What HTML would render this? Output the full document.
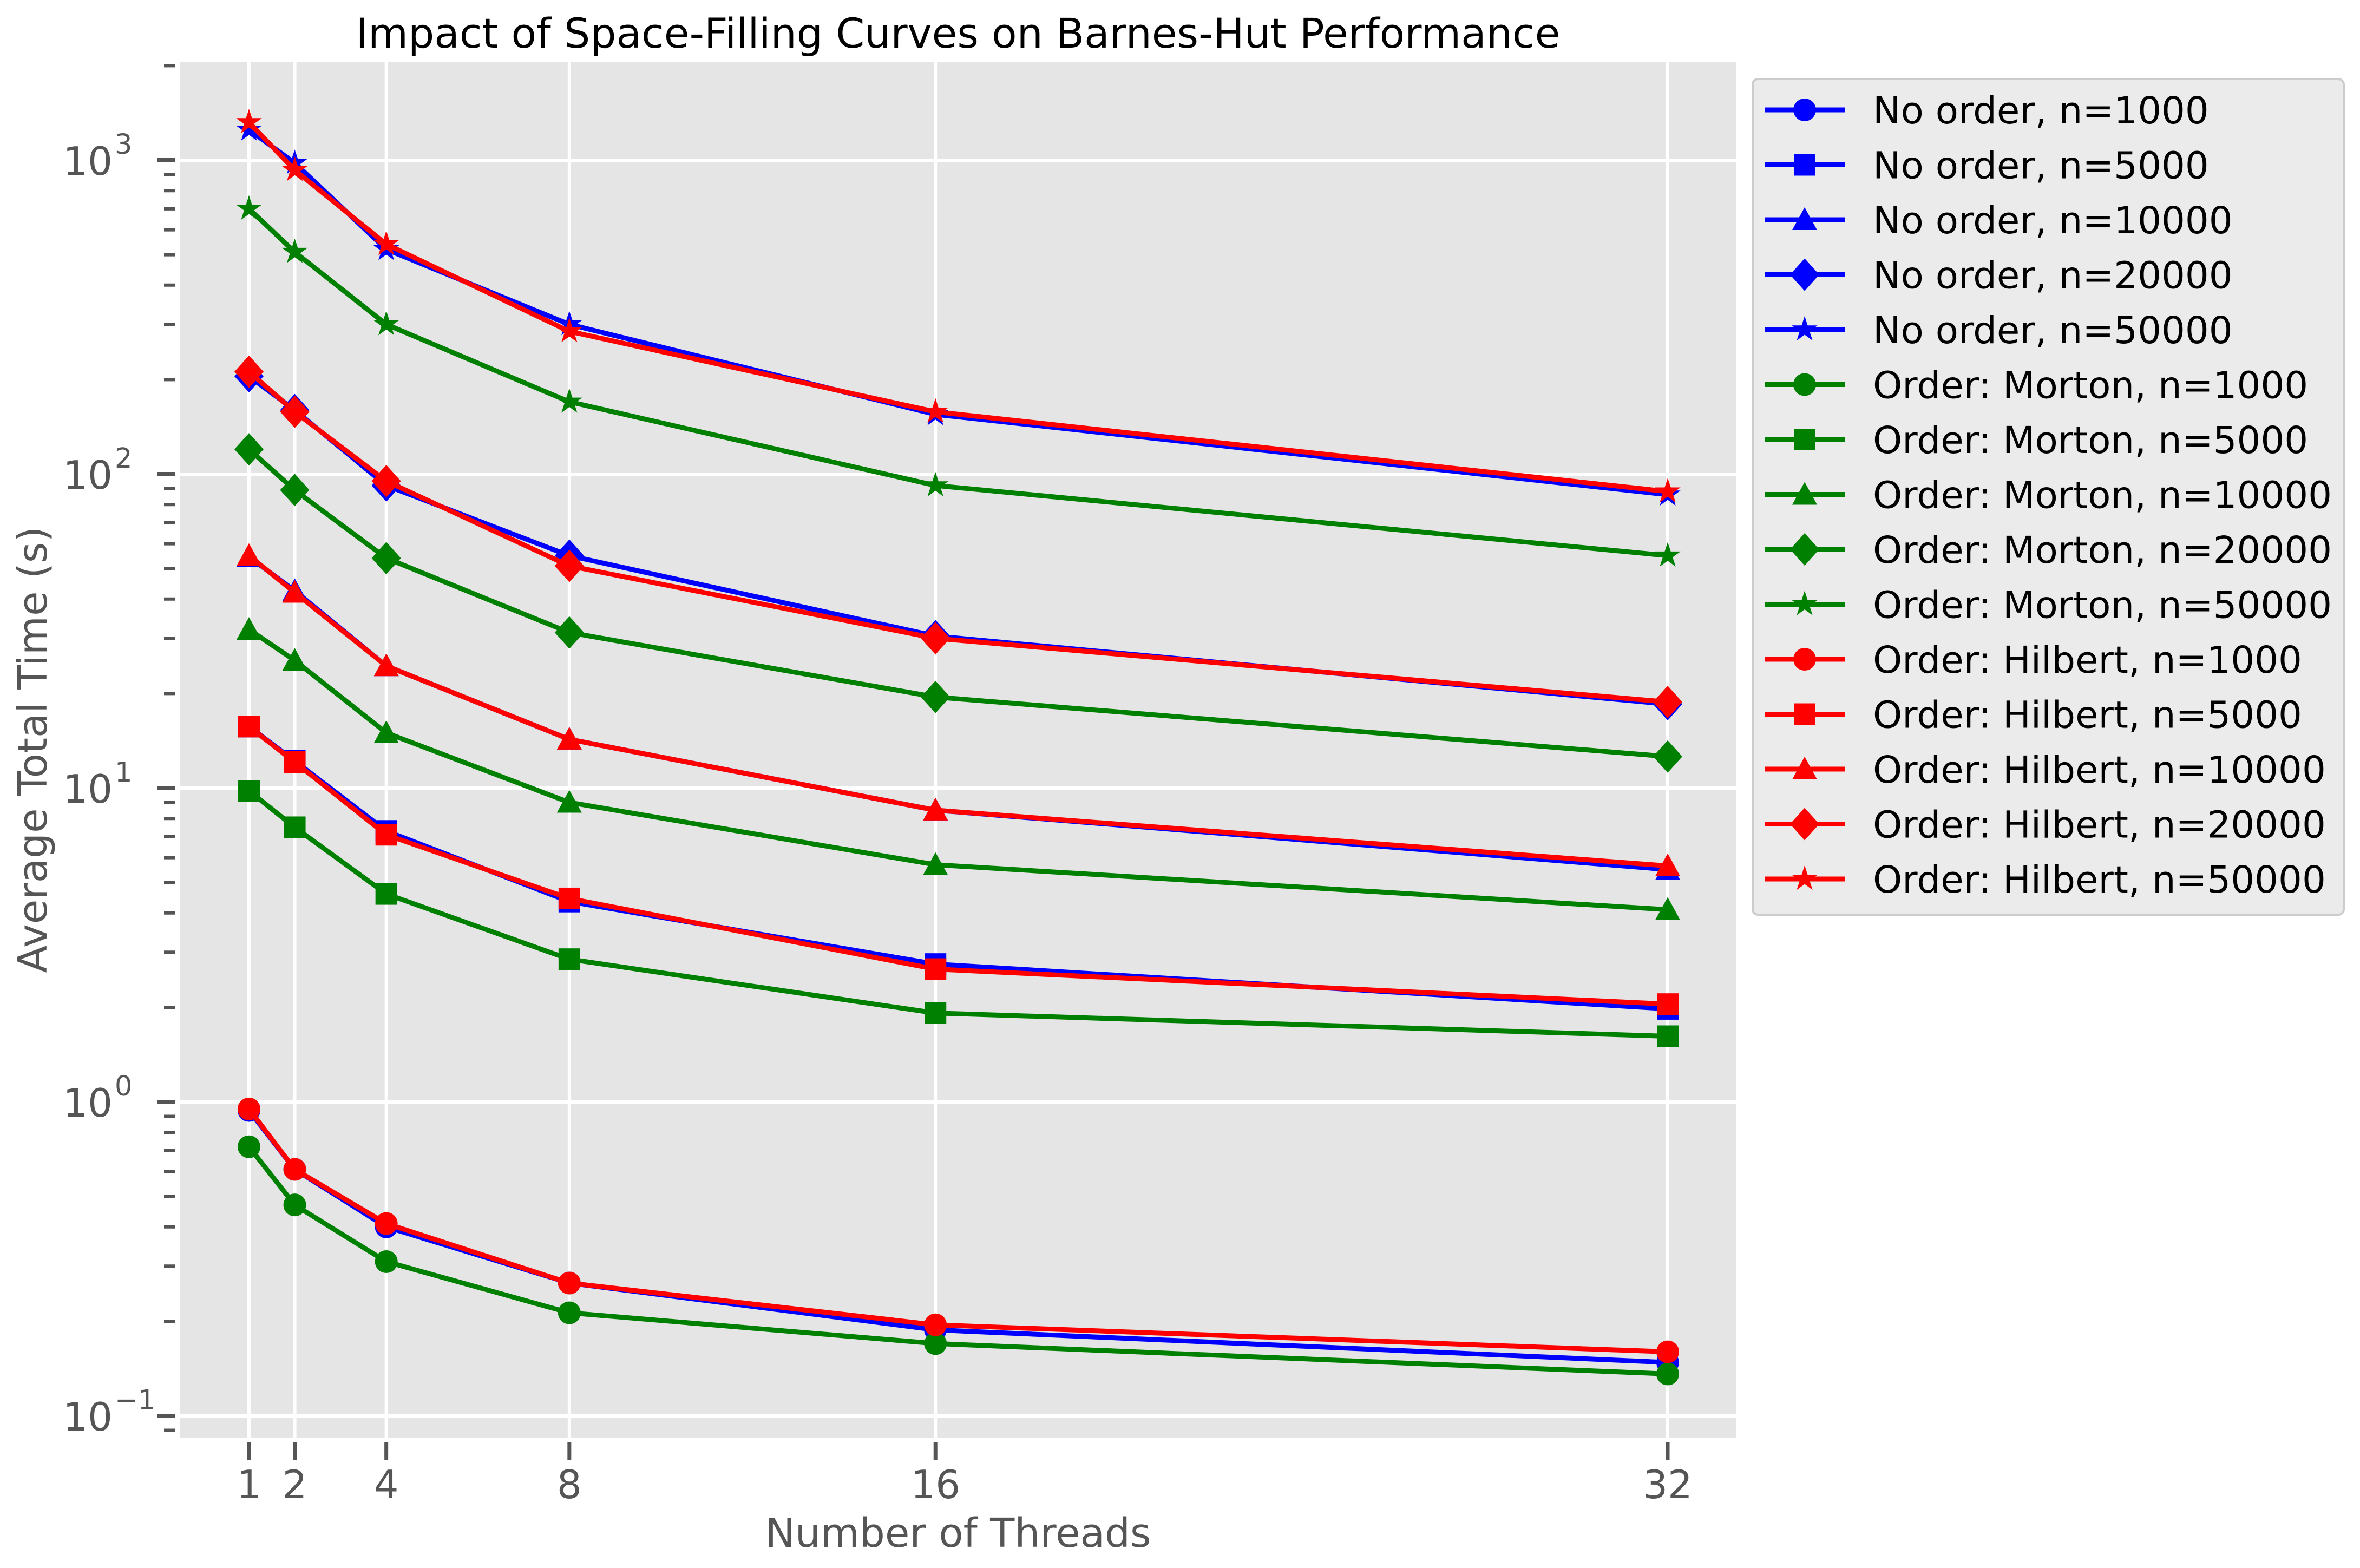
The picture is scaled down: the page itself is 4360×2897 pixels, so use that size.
<!DOCTYPE html>
<html><head><meta charset="utf-8"><style>
html,body{margin:0;padding:0;background:#fff;}
svg{display:block;font-family:"DejaVu Sans","Liberation Sans",sans-serif;}
</style></head><body>
<svg id="chart" width="4360" height="2897" viewBox="0 0 4360 2897" xmlns="http://www.w3.org/2000/svg">
<rect x="0" y="0" width="4360" height="2897" fill="#fff"/>
<rect x="332" y="115" width="2876" height="2541" fill="#e5e5e5"/>
<g id="grid"></g><g id="ticks"></g><g id="series"></g>
<text x="1770" y="88" font-size="76" text-anchor="middle" fill="#000">Impact of Space-Filling Curves on Barnes-Hut Performance</text>
<text x="1770" y="2858" font-size="74" text-anchor="middle" fill="#555">Number of Threads</text>
<text x="0" y="0" font-size="74" text-anchor="middle" fill="#555" transform="translate(86,1385) rotate(-90)">Average Total Time (s)</text>
<g id="legend"></g>
</svg>
<script>
const threads = [1, 2, 4, 8, 16, 32];
const seriesLabels = ["No order, n=1000","No order, n=5000","No order, n=10000","No order, n=20000","No order, n=50000",
"Order: Morton, n=1000","Order: Morton, n=5000","Order: Morton, n=10000","Order: Morton, n=20000","Order: Morton, n=50000",
"Order: Hilbert, n=1000","Order: Hilbert, n=5000","Order: Hilbert, n=10000","Order: Hilbert, n=20000","Order: Hilbert, n=50000"];
const noOrder1000 = [0.94, 0.61, 0.40, 0.265, 0.188, 0.148];
const noOrder5000 = [15.7, 12.2, 7.3, 4.35, 2.75, 1.98];
const noOrder10000 = [54.5, 42.5, 24.5, 14.3, 8.5, 5.5];
const noOrder20000 = [205, 160, 92, 55, 30.5, 18.5];
const noOrder50000 = [1250, 980, 520, 300, 155, 86];
const morton1000 = [0.72, 0.47, 0.31, 0.213, 0.17, 0.136];
const morton5000 = [9.8, 7.5, 4.6, 2.85, 1.92, 1.62];
const morton10000 = [32, 25.5, 15, 9.0, 5.7, 4.1];
const morton20000 = [120, 89, 54, 31.3, 19.5, 12.6];
const morton50000 = [700, 510, 300, 170, 92, 55];
const hilbert1000 = [0.95, 0.61, 0.41, 0.265, 0.195, 0.160];
const hilbert5000 = [15.7, 12.1, 7.1, 4.45, 2.65, 2.05];
const hilbert10000 = [55, 42, 24.5, 14.3, 8.5, 5.65];
const hilbert20000 = [212, 158, 95, 51, 30, 18.8];
const hilbert50000 = [1320, 930, 540, 285, 158, 88];
const xTickLabels = ["1","2","4","8","16","32"];
const yDecades = [-1, 0, 1, 2, 3];

const seriesValues = [noOrder1000,noOrder5000,noOrder10000,noOrder20000,noOrder50000,
morton1000,morton5000,morton10000,morton20000,morton50000,
hilbert1000,hilbert5000,hilbert10000,hilbert20000,hilbert50000];
const colors = ["#0000ff","#008000","#ff0000"];
const markers = ["o","s","^","D","*"];

const NS = "http://www.w3.org/2000/svg";
const PL = 332, PR = 3208, PT = 115, PB = 2656;
function xs(v){ return 460 + (v - 1) * (3081 - 460) / 31; }
function ys(v){ return 2036 - 580 * Math.log10(v); }
function mk(tag, attrs, parent){ const e = document.createElementNS(NS, tag); for (const k in attrs) e.setAttribute(k, attrs[k]); parent.appendChild(e); return e; }

const grid = document.getElementById('grid');
const ticks = document.getElementById('ticks');
threads.forEach((t, i) => {
  const x = xs(t);
  const g = mk('line', {x1:x, x2:x, y1:PT, y2:PB, stroke:'#fff', 'stroke-width':6}, grid);
  
  
  const tk = mk('line', {x1:x, x2:x, y1:2664, y2:2698, stroke:'#555', 'stroke-width':7}, ticks);
  
  
  const lb = mk('text', {x:x, y:2768, 'font-size':72, 'text-anchor':'middle', fill:'#555'}, ticks);
  lb.textContent = xTickLabels[i];
  
  
});
yDecades.forEach(d => {
  const y = ys(Math.pow(10, d));
  const g = mk('line', {x1:PL, x2:PR, y1:y, y2:y, stroke:'#fff', 'stroke-width':6}, grid);
  
  
  const tk = mk('line', {x1:290, x2:324, y1:y, y2:y, stroke:'#555', 'stroke-width':8}, ticks);
  
  
  const lb = mk('text', {x:208, y:y + 27, 'font-size':72, 'text-anchor':'end', fill:'#555'}, ticks);
  lb.textContent = '10';
  
  
  const sup = mk('text', {x:212, y:y - 12, 'font-size':51, 'text-anchor':'start', fill:'#555'}, ticks);
  sup.textContent = d < 0 ? '\u2212' + (-d) : String(d);
  
  
});
for (let d = -2; d <= 3; d++) {
  for (let m = 2; m <= 9; m++) {
    const v = m * Math.pow(10, d);
    const y = ys(v);
    if (y < PT || y > PB) continue;
    const tk = mk('line', {x1:303, x2:324, y1:y, y2:y, stroke:'#555', 'stroke-width':6}, ticks);
    
    
  }
}

function starPath(cx, cy, R){
  const r = R * 0.382; let p = '';
  for (let i = 0; i < 10; i++) {
    const a = -Math.PI/2 + i * Math.PI/5; const rr = i % 2 ? r : R;
    p += (i ? 'L' : 'M') + (cx + rr*Math.cos(a)).toFixed(1) + ' ' + (cy + rr*Math.sin(a)).toFixed(1);
  }
  return p + 'Z';
}
function drawMarker(type, cx, cy, color, parent){
  let e;
  if (type === 'o') e = mk('circle', {cx:cx, cy:cy, r:21, fill:color}, parent);
  else if (type === 's') e = mk('rect', {x:cx-20, y:cy-20, width:40, height:40, fill:color}, parent);
  else if (type === '^') e = mk('path', {d:`M${cx} ${cy-23}L${cx+23} ${cy+19}L${cx-23} ${cy+19}Z`, fill:color}, parent);
  else if (type === 'D') e = mk('path', {d:`M${cx} ${cy-30}L${cx+27} ${cy}L${cx} ${cy+30}L${cx-27} ${cy}Z`, fill:color}, parent);
  else e = mk('path', {d:starPath(cx, cy, 25), fill:color}, parent);
  return e;
}

const sg = document.getElementById('series');
seriesValues.forEach((vals, si) => {
  const color = colors[Math.floor(si / 5)];
  const mtype = markers[si % 5];
  const g = mk('g', {}, sg);
  
  
  const pts = vals.map((v, i) => xs(threads[i]).toFixed(1) + ',' + ys(v).toFixed(1)).join(' ');
  const ln = mk('polyline', {points:pts, fill:'none', stroke:color, 'stroke-width':9, 'stroke-linejoin':'round'}, g);
  
  
  vals.forEach((v, i) => {
    const m = drawMarker(mtype, xs(threads[i]), ys(v), color, g);
    
    
  });
});

const lg = document.getElementById('legend');
const box = mk('rect', {x:3238, y:146, width:1092, height:1544, rx:10, fill:'#ebebeb', stroke:'#cccccc', 'stroke-width':4}, lg);


seriesLabels.forEach((lab, si) => {
  const y = 203 + si * 101.5;
  const color = colors[Math.floor(si / 5)];
  const g = mk('g', {}, lg);
  
  
  mk('line', {x1:3261, x2:3408, y1:y, y2:y, stroke:color, 'stroke-width':9}, g);
  drawMarker(markers[si % 5], 3334, y, color, g);
  const t = mk('text', {x:3460, y:y + 25, 'font-size':69, fill:'#000'}, g);
  t.textContent = lab;
});
</script>
</body></html>
